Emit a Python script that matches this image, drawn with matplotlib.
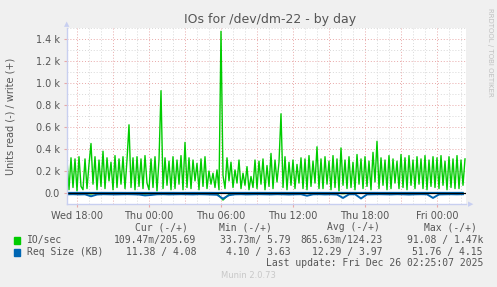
import numpy as np
import matplotlib
matplotlib.use("Agg")
import matplotlib.pyplot as plt
from matplotlib.ticker import MultipleLocator

# hours since Wed 00:00, 10 minute steps for the write series
t_start = 17.17
t_end = 50.42

write_io = [300, 30, 320, 50, 310,
            20, 330, 60, 30, 310, 40,
            260, 450, 80, 330, 30, 300,
            60, 380, 40, 320, 110, 280,
            30, 340, 50, 310, 80, 330,
            40, 300, 620, 50, 320, 30,
            330, 60, 310, 40, 340, 90,
            30, 310, 50, 330, 20, 300,
            930, 40, 320, 70, 290, 30,
            330, 40, 300, 80, 340, 30,
            460, 50, 320, 40, 300, 110,
            270, 30, 310, 60, 330, 40,
            200, 80, 180, 50, 210, 30,
            1470, 160, 40, 320, 110, 280,
            50, 210, 90, 300, 40, 180,
            70, 240, 30, 150, 50, 300,
            40, 290, 80, 310, 30, 250,
            60, 360, 40, 300, 100, 280,
            720, 50, 330, 30, 280, 70,
            300, 40, 260, 90, 320, 40,
            310, 30, 340, 60, 290, 90,
            420, 40, 310, 40, 330, 80,
            290, 30, 340, 50, 310, 20,
            410, 70, 300, 40, 330, 50,
            280, 30, 350, 80, 310, 40,
            330, 60, 290, 30, 370, 100,
            470, 40, 320, 70, 300, 30,
            340, 40, 310, 90, 290, 40,
            350, 50, 320, 30, 340, 70,
            300, 40, 330, 80, 310, 40,
            340, 30, 300, 60, 330, 50,
            320, 40, 340, 70, 290, 30,
            330, 50, 310, 40, 340, 40,
            300, 70, 310]

# 30 minute steps for the read side and request sizes
read_io = [1, 2, 0, 3, 8, 1, 0, 2, 1, 4, 0, 1, 2, 10, 1, 0, 3, 1, 2, 0,
           1, 5, 2, 1, 0, 3, 64, 12, 2, 1, 0, 2, 1, 0, 3, 1, 2, 0, 1, 4,
           2, 1, 0, 1, 3, 0, 6, 1, 2, 0, 1, 3, 1, 0, 2, 1, 0, 1, 2, 0,
           1, 3, 0, 1, 2, 1, 0]
read_size = [12, 11, 13, 12, 30, 14, 11, 12, 13, 12, 11, 12, 14, 22, 18, 12, 11, 13, 12, 11,
             12, 13, 11, 12, 14, 16, 52, 20, 12, 11, 13, 12, 11, 12, 13, 11, 12, 14, 12, 11,
             25, 12, 11, 13, 12, 14, 45, 12, 11, 50, 13, 12, 11, 12, 13, 11, 12, 14, 12, 11,
             12, 45, 13, 12, 11, 12, 11]
write_size = [4.0, 3.9, 4.1, 4.0, 3.8, 4.0, 4.1, 3.9, 4.0, 4.0, 3.7, 4.0, 4.1, 3.9, 4.0, 4.0,
              3.9, 4.1, 4.0, 3.8, 4.0, 4.1, 3.9, 4.0, 4.0, 3.6, 4.0, 4.1, 3.9, 4.0, 4.0, 3.9,
              4.1, 4.0, 3.8, 4.0, 4.1, 3.9, 4.0, 4.0, 3.9, 4.0, 4.1, 3.9, 4.0, 4.0, 3.9, 4.1,
              4.0, 3.8, 4.0, 4.1, 3.9, 4.0, 4.0, 3.9, 4.0, 4.1, 3.9, 4.0, 4.0, 3.9, 4.1, 4.0,
              3.8, 4.0, 4.1]

tick_hours = [18, 24, 30, 36, 42, 48]
tick_labels = ["Wed 18:00", "Thu 00:00", "Thu 06:00", "Thu 12:00", "Thu 18:00", "Fri 00:00"]

legend_names = ["IO/sec", "Req Size (KB)"]
legend_cols = ["Cur (-/+)", "Min (-/+)", "Avg (-/+)", "Max (-/+)"]
legend_vals = [["109.47m/205.69", "33.73m/ 5.79", "865.63m/124.23", "91.08 / 1.47k"],
               ["11.38 / 4.08", "4.10 / 3.63", "12.29 / 3.97", "51.76 / 4.15"]]

green = "#00CC00"
blue = "#0066B3"
txt = "#555555"
W, H = 497, 287

fig = plt.figure(figsize=(W / 100, H / 100), dpi=100)
fig.patch.set_facecolor("#F0F0F0")

x0, x1, y0, y1 = 67, 466, 28, 204
ax = fig.add_axes([x0 / W, 1 - y1 / H, (x1 - x0) / W, (y1 - y0) / H])
ax.set_facecolor("white")

t_w = t_start + np.arange(len(write_io)) / 6.0
t_r = t_start + np.arange(len(read_io)) * 0.5

ax.plot(t_w, write_io, color=green, lw=1.0)
ax.plot(t_r, -np.array(read_io), color=green, lw=1.0)
ax.plot(t_r, -np.array(read_size), color=blue, lw=1.4)
ax.plot(t_r, write_size, color=blue, lw=1.0)
ax.axhline(0, color="black", lw=0.9)

ax.set_xlim(t_start, t_end)
ax.set_ylim(-100, 1500)

ax.xaxis.set_minor_locator(MultipleLocator(1))
ax.yaxis.set_minor_locator(MultipleLocator(100))
ax.set_yticks([0, 200, 400, 600, 800, 1000, 1200, 1400])
ax.set_yticklabels(["0.0", "0.2 k", "0.4 k", "0.6 k", "0.8 k", "1.0 k", "1.2 k", "1.4 k"])
ax.set_xticks(tick_hours)
ax.set_xticklabels(tick_labels)

for h in np.arange(18, 51, 1):
    c = "#e8a8a8" if h % 3 == 0 else "#d8d8d8"
    ax.axvline(h, color=c, lw=0.7, ls=(0, (1, 2)), zorder=0)
for v in range(-100, 1501, 100):
    if v == 0:
        continue
    c = "#e8a8a8" if v % 200 == 0 else "#d8d8d8"
    ax.axhline(v, color=c, lw=0.7, ls=(0, (1, 2)), zorder=0)

ax.tick_params(axis="both", which="both", length=2, color="#e8a8a8", labelsize=7, labelcolor=txt, pad=3)
ax.tick_params(axis="both", which="minor", length=0)
for s in ["top", "right"]:
    ax.spines[s].set_visible(False)
for s in ["left", "bottom"]:
    ax.spines[s].set_color("#c8cff0")
    ax.spines[s].set_linewidth(1.0)
# axis arrows
fig.text(67 / W, 1 - 24 / H, "\u25B2", color="#c8cff0", fontsize=5, ha="center", va="center")
fig.text(471 / W, 1 - 204 / H, "\u25B6", color="#c8cff0", fontsize=5, ha="center", va="center")

fig.text(11 / W, 1 - 116 / H, "Units read (-) / write (+)", fontsize=7, color=txt,
         rotation=90, ha="center", va="center")

fig.text(270 / W, 1 - 19 / H, "IOs for /dev/dm-22 - by day", fontsize=9, color=txt, ha="center", va="center")
fig.text(490 / W, 1 - 52 / H, "RRDTOOL / TOBI OETIKER", fontsize=5, color="#c0c0c0",
         rotation=270, ha="center", va="center")

mono = "DejaVu Sans Mono"
col_right = [196, 291, 383, 483]
col_head = [161, 245, 353, 450]
for cx, lab in zip(col_head, legend_cols):
    fig.text(cx / W, 1 - 227 / H, lab, family=mono, fontsize=7, color=txt, ha="center", va="center")
for i, (name, color) in enumerate(zip(legend_names, [green, blue])):
    y = 240 + 12 * i
    fig.patches.append(plt.Rectangle((14 / W, 1 - (y + 3.5) / H), 6 / W, 7 / H,
                                     transform=fig.transFigure, color=color))
    fig.text(27 / W, 1 - y / H, name, family=mono, fontsize=7, color=txt, ha="left", va="center")
    for cx, val in zip(col_right, legend_vals[i]):
        fig.text(cx / W, 1 - y / H, val, family=mono, fontsize=7, color=txt, ha="right", va="center")
fig.text(483 / W, 1 - 263 / H, "Last update: Fri Dec 26 02:25:07 2025", family=mono, fontsize=7,
         color=txt, ha="right", va="center")
fig.text(248 / W, 1 - 276 / H, "Munin 2.0.73", fontsize=6, color="#c8c8c8", ha="center", va="center")

fig.savefig("out.png", dpi=100, facecolor=fig.get_facecolor())
